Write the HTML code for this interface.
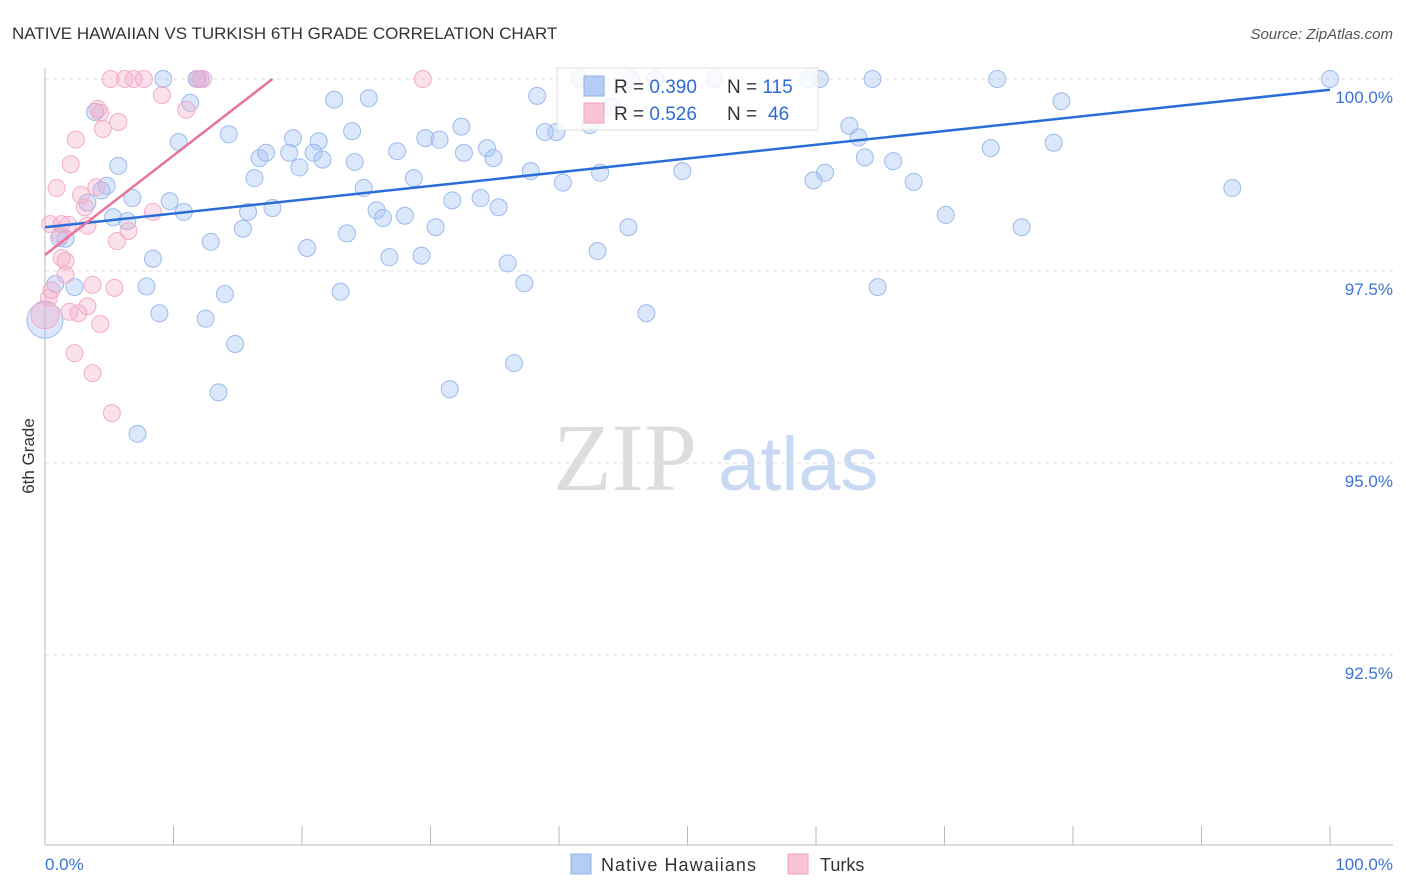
<!DOCTYPE html>
<html><head><meta charset="utf-8"><style>
body{margin:0;background:#fff;font-family:"Liberation Sans",sans-serif;}
svg{display:block}
</style></head><body>
<svg id="c" width="1406" height="892" xmlns="http://www.w3.org/2000/svg">
<text x="12" y="39" font-size="17" fill="#333">NATIVE HAWAIIAN VS TURKISH 6TH GRADE CORRELATION CHART</text>
<text x="1393" y="39" font-size="15" fill="#555" font-style="italic" text-anchor="end">Source: ZipAtlas.com</text>
<g><text x="553" y="490" font-family="Liberation Serif,serif" font-size="96" fill="#ddd">ZIP</text><text x="718" y="490" font-size="76" fill="#c9d9f3">atlas</text></g>
<g id="grid"></g><g id="axes"></g><g id="pts"></g><g id="trend"></g>
<text transform="translate(34,456) rotate(-90)" font-size="17" fill="#333" text-anchor="middle">6th Grade</text>
<g>
<rect x="557" y="68" width="261" height="62" fill="rgba(255,255,255,0.8)" stroke="#ddd"/>
<rect x="584" y="76" width="20" height="20" fill="#b4cdf4" stroke="#8fb0e8"/>
<rect x="584" y="103" width="20" height="20" fill="#f8c4d6" stroke="#f0a0be"/>
<text x="614" y="93" font-size="19" fill="#333">R = <tspan fill="#2f6bd6">0.390</tspan><tspan x="727">N = </tspan><tspan fill="#2f6bd6">115</tspan></text>
<text x="614" y="120" font-size="19" fill="#333">R = <tspan fill="#2f6bd6">0.526</tspan><tspan x="727">N = </tspan><tspan fill="#2f6bd6" x="768">46</tspan></text>
</g>
<g>
<rect x="571" y="854" width="20" height="20" fill="#b4cdf4" stroke="#8fb0e8"/>
<text x="601" y="871" font-size="18" fill="#333" textLength="155">Native Hawaiians</text>
<rect x="788" y="854" width="20" height="20" fill="#f8c4d6" stroke="#f0a0be"/>
<text x="820" y="871" font-size="18" fill="#333">Turks</text>
</g>
</svg>
<script>
const yTicks=[100,97.5,95,92.5];
const yTickLabels=["100.0%","97.5%","95.0%","92.5%"];
const xLabels=["0.0%","100.0%"];
const blueX=[9.2,11.8,12.1,41.6,45.6,47.5,52.1,59.4,60.3,64.4,74.1,100,3.9,11.3,22.5,25.2,38.3,79.1,44.1,10.4,14.3,19.3,21.3,23.9,32.4,29.6,30.7,38.9,39.8,42.4,62.6,63.3,5.7,16.7,17.2,19.0,20.9,21.6,19.8,24.1,27.4,32.6,34.4,34.9,63.8,66.0,73.6,78.5,4.8,4.4,6.8,3.3,9.7,16.3,24.8,28.7,31.7,33.9,37.8,40.3,43.2,49.6,59.8,60.7,67.6,92.4,5.3,6.4,10.8,15.8,17.7,25.8,26.3,28.0,35.3,70.1,15.4,23.5,30.4,45.4,76.0,1.6,1.1,12.9,20.4,8.4,26.8,29.3,36.0,43.0,0.8,2.3,7.9,14.0,23.0,37.3,64.8,8.9,12.5,46.8,14.8,36.5,31.5,13.5,7.2,0];
const blueY=[100,100,100,100,100,100,100,100,100,100,100,100,99.57,99.69,99.73,99.75,99.78,99.71,99.64,99.18,99.28,99.23,99.19,99.32,99.38,99.23,99.21,99.31,99.31,99.40,99.39,99.24,98.87,98.97,99.04,99.04,99.04,98.95,98.85,98.92,99.06,99.04,99.10,98.97,98.98,98.93,99.10,99.17,98.61,98.55,98.45,98.39,98.41,98.71,98.58,98.71,98.42,98.45,98.80,98.65,98.78,98.80,98.68,98.78,98.66,98.58,98.20,98.15,98.27,98.27,98.32,98.29,98.19,98.22,98.33,98.23,98.05,97.99,98.07,98.07,98.07,97.92,97.93,97.88,97.80,97.66,97.68,97.70,97.60,97.76,97.33,97.29,97.30,97.20,97.23,97.34,97.29,96.95,96.88,96.95,96.55,96.30,95.96,95.92,95.38,96.86];
const pinkX=[5.1,6.2,6.9,7.7,11.9,12.3,29.4,9.1,11.0,4.1,4.3,5.7,4.5,2.4,2.0,0.9,4.0,2.8,3.1,8.4,0.4,1.3,1.8,3.3,6.5,5.6,1.2,1.3,1.6,1.6,3.7,5.4,0.5,0.3,3.3,1.9,2.6,4.3,2.3,3.7,5.2,0];
const pinkY=[100,100,100,100,100,100,100,99.79,99.60,99.61,99.56,99.44,99.35,99.21,98.89,98.58,98.59,98.49,98.33,98.27,98.11,98.11,98.10,98.09,98.02,97.89,97.96,97.67,97.63,97.45,97.32,97.28,97.25,97.15,97.04,96.97,96.95,96.81,96.43,96.17,95.65,96.93];
const blueTrend=[[0,98.07],[100,99.86]];
const pinkTrend=[[0,97.71],[17.7,100]];
const NS="http://www.w3.org/2000/svg";
const sx=v=>45+v*12.85, sy=v=>79+(100-v)*76.8;
function mk(t,a,p){const e=document.createElementNS(NS,t);for(const k in a)e.setAttribute(k,a[k]);document.getElementById(p).appendChild(e);return e;}
yTicks.forEach((t,i)=>{
 const l=mk('line',{x1:45,x2:1393,y1:sy(t),y2:sy(t),stroke:'#ddd','stroke-dasharray':'4,4'},'grid');
 
 
 const tx=mk('text',{x:1393,y:sy(t)+24,'font-size':17,fill:'#3b73d9','text-anchor':'end'},'axes');
 tx.textContent=yTickLabels[i];
 
 
});
let ax=mk('line',{x1:45,x2:45,y1:68,y2:845,stroke:'#bbb'},'axes');


ax=mk('line',{x1:45,x2:1393,y1:845,y2:845,stroke:'#bbb'},'axes');


for(let i=0;i<=10;i++){const t=mk('line',{x1:sx(i*10),x2:sx(i*10),y1:826,y2:845,stroke:'#bbb'},'axes');
 
 }
[[0,'start'],[100,'end']].forEach((d,i)=>{const t=mk('text',{x:i?1393:45,y:870,'font-size':17,fill:'#3b73d9','text-anchor':d[1]},'axes');t.textContent=xLabels[i];
 
 });
function pts(X,Y,fill,stroke,name){X.forEach((x,i)=>{const big=x===0&&i===X.length-1;const c=mk('circle',{cx:sx(x),cy:sy(Y[i]),r:big?(name==='blue'?18:14):8.5,fill:fill,stroke:stroke,'stroke-width':1},'pts');
 
 });}
pts(blueX,blueY,'rgba(164,194,244,0.4)','#9dbbec','blue');
pts(pinkX,pinkY,'rgba(244,170,200,0.35)','#f2adc7','pink');
let tl=mk('line',{x1:sx(blueTrend[0][0]),y1:sy(blueTrend[0][1]),x2:sx(blueTrend[1][0]),y2:sy(blueTrend[1][1]),stroke:'#2a6dd6','stroke-width':2.5},'trend');


tl=mk('line',{x1:sx(pinkTrend[0][0]),y1:sy(pinkTrend[0][1]),x2:sx(pinkTrend[1][0]),y2:sy(pinkTrend[1][1]),stroke:'#e8739b','stroke-width':2.5},'trend');


</script>
</body></html>
